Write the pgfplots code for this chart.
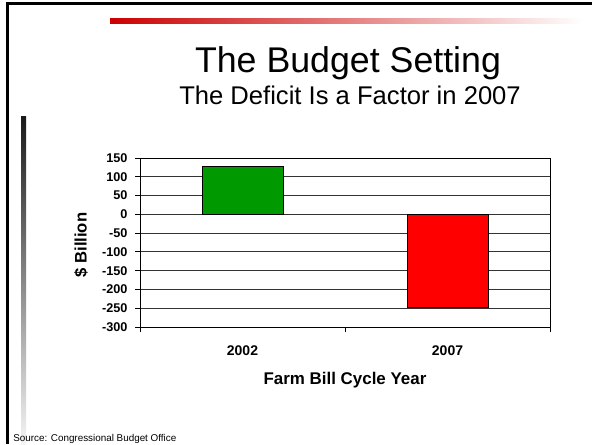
\documentclass[border=0pt]{standalone}
\usepackage{pgfplots}
\pgfplotsset{compat=1.18}
\usepackage{fontspec}
\setmainfont{Liberation Sans}
\definecolor{bargreen}{RGB}{0,153,0}
\definecolor{barred}{RGB}{255,0,0}
\definecolor{slidered}{RGB}{204,0,0}

% 1 px of the 592x444 slide = 0.75pt
\newcommand{\px}[2]{({#1*0.75pt},{(444-#2)*0.75pt})}

\begin{document}
\begin{tikzpicture}
\path[use as bounding box] (0,0) rectangle (444pt,333pt);
\fill[white] (0,0) rectangle (444pt,333pt);

% slide decorations
\draw[line width=1.6pt] \px{7.5}{444} -- \px{7.5}{3.5} -- \px{592}{3.5};
\shade[left color=slidered, right color=white] \px{110}{18} rectangle \px{583}{23};
\shade[top color=black!90, bottom color=black!4] \px{21}{116} rectangle \px{26}{444};

\node[font=\fontsize{26.8}{31}\selectfont, anchor=base, inner sep=0pt] at \px{348}{72} {The Budget Setting};
\node[font=\fontsize{19.2}{22}\selectfont, anchor=base, inner sep=0pt] at \px{350}{104} {The Deficit Is a Factor in 2007};
\node[font=\fontsize{7.4}{8}\selectfont, anchor=base west, inner sep=0pt] at \px{13}{441} {Source: Congressional Budget Office};

% plot area: x 140..550 px, y 158..327 px
\begin{axis}[
    at={(105pt,87.75pt)}, anchor=south west,
    scale only axis,
    width=307.5pt, height=126.75pt,
    xmin=0, xmax=2,
    ymin=-300, ymax=150,
    ytick={-300,-250,-200,-150,-100,-50,0,50,100,150},
    yticklabels={-300,-250,-200,-150,-100,-50,0,50,100,150},
    xtick={0,1,2},
    xticklabels={,,},
    extra x ticks={0.5,1.5},
    extra x tick labels={2002,2007},
    extra x tick style={major tick length=0pt, grid=none,
        every tick label/.style={font=\fontsize{10.5}{12}\selectfont\bfseries,
            anchor=base, yshift=-21pt}},
    tick align=outside,
    major tick length=3.75pt,
    xtick pos=bottom, ytick pos=left,
    ymajorgrids,
    major grid style={black!80, line width=0.6pt},
    axis line style={black, line width=0.6pt},
    tick style={black, line width=0.6pt},
    yticklabel style={font=\fontsize{9.5}{11}\selectfont\bfseries, xshift=-2.1pt},
    xlabel={Farm Bill Cycle Year},
    ylabel={\$ Billion},
    every axis x label/.style={at={(axis description cs:0.5,-0.343)}, anchor=base,
        inner sep=0pt, font=\fontsize{12.7}{15}\selectfont\bfseries},
    every axis y label/.style={at={(axis description cs:-0.144,0.485)}, anchor=center,
        rotate=90, inner sep=0pt, font=\fontsize{12.5}{15}\selectfont\bfseries},
    ybar, bar width=0.395, bar shift=0pt,
]
\addplot[fill=bargreen, draw=black, line width=0.5pt] coordinates {(0.5,128)};
\addplot[fill=barred, draw=black, line width=0.5pt] coordinates {(1.5,-248)};
\end{axis}
\end{tikzpicture}
\end{document}
